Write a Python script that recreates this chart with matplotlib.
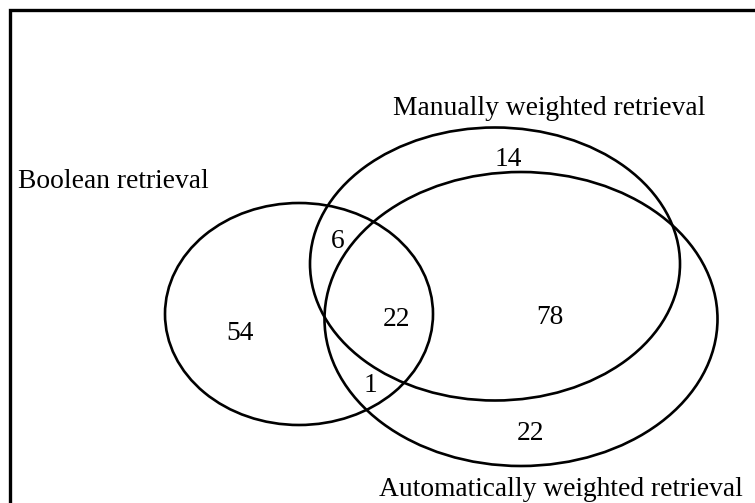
import matplotlib
matplotlib.use("Agg")
import matplotlib.pyplot as plt
from matplotlib.patches import Ellipse

# Data
set_names = ["Boolean retrieval", "Manually weighted retrieval", "Automatically weighted retrieval"]
region_labels = ["Boolean only", "Manual only", "Boolean & Manual", "All three",
                 "Manual & Automatic", "Boolean & Automatic", "Automatic only"]
region_counts = [54, 14, 6, 22, 78, 1, 22]

# Layout (pixel coordinates, y downward)
ellipse_centers = [(299, 314), (495, 264), (521, 319)]
ellipse_sizes = [(268, 222), (370, 273), (393, 294)]
name_positions = [(18, 182, "left"), (549, 108, "center"), (561, 489, "center")]
count_positions = [(240, 334), (508, 159), (338, 241), (396, 319), (550, 317), (370, 385), (530, 433)]

W, H = 755, 503
fig = plt.figure(figsize=(W / 100, H / 100), dpi=100)
ax = fig.add_axes([0, 0, 1, 1])
ax.set_xlim(0, W)
ax.set_ylim(H, 0)
ax.axis("off")

# frame (top and left visible)
ax.plot([10, 10, W + 10], [H + 10, 10, 10], color="black", lw=2.4, solid_capstyle="butt",
        solid_joinstyle="miter")

for (cx, cy), (w, h) in zip(ellipse_centers, ellipse_sizes):
    ax.add_patch(Ellipse((cx, cy), w, h, fill=False, edgecolor="black", lw=1.9))

font = dict(family=["Liberation Serif", "DejaVu Serif"], fontsize=19.8, color="black")
for name, (x, y, ha) in zip(set_names, name_positions):
    ax.text(x, y, name, ha=ha, va="center", **font)
for cnt, (x, y) in zip(region_counts, count_positions):
    ax.text(x, y, str(cnt), ha="center", va="center", **font)

fig.savefig("out.png", dpi=100)
